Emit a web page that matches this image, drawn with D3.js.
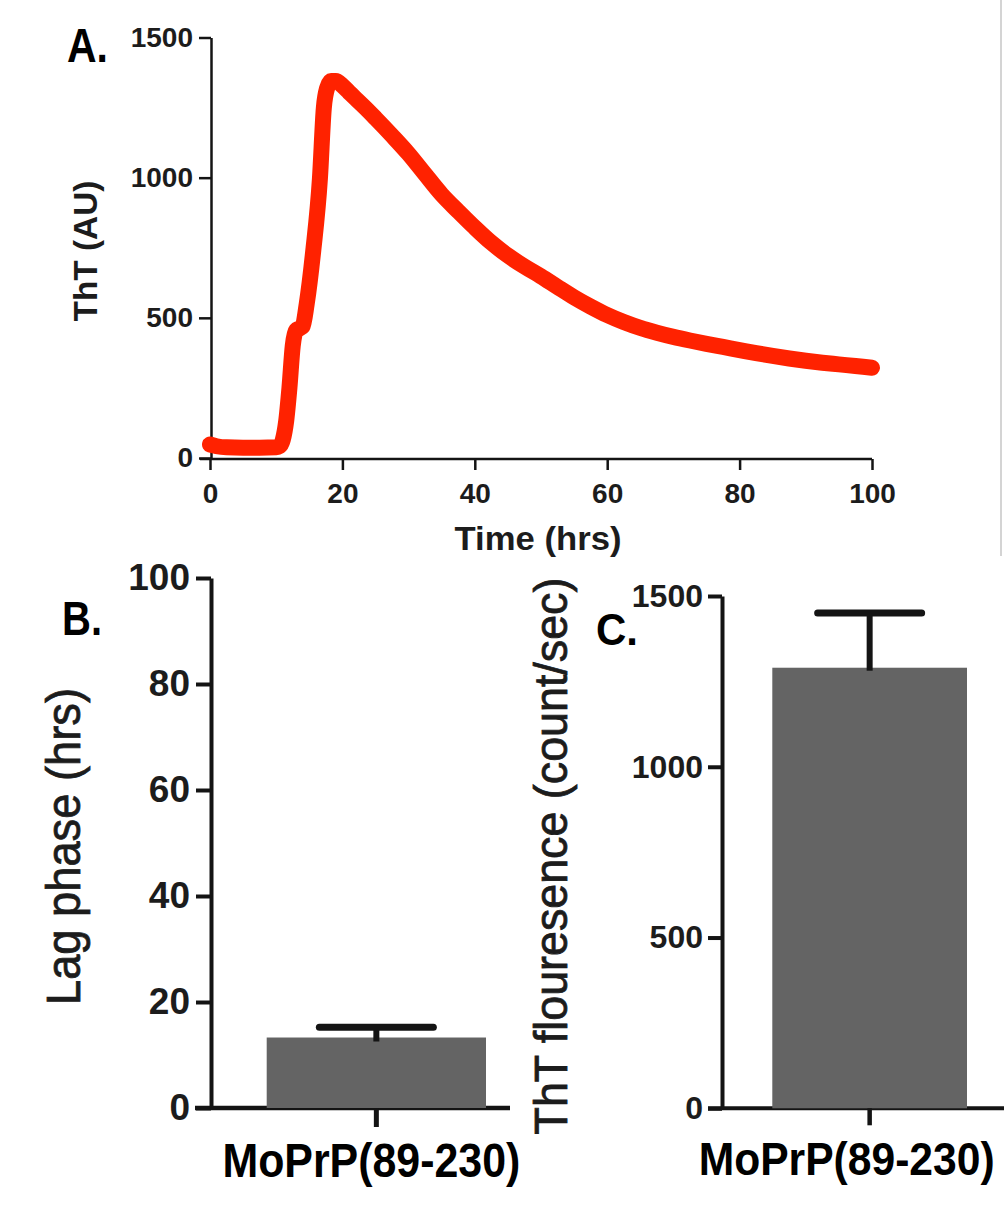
<!DOCTYPE html>
<html>
<head>
<meta charset="utf-8">
<script src="https://cdn.jsdelivr.net/npm/d3@7"></script>
<style>
  html, body { margin: 0; padding: 0; background: #fff; }
  svg { display: block; }
  text { font-family: "Liberation Sans", Arial, Helvetica, sans-serif; }
</style>
</head>
<body>
<script>
// ---------------- DATA ----------------
// Panel A: ThT kinetics
const timeHrs = [0, 1, 2.5, 5, 7.5, 10, 10.5, 11, 11.5, 12, 12.5, 13, 13.5, 14,
  14.6, 15.6, 16.6, 17.2, 17.7, 18.3, 19, 20, 21, 22, 23.5, 25, 27.5, 30, 32.5, 35,
  37.5, 40, 42.5, 45, 47.5, 50, 52.5, 55, 57.5, 60, 62.5, 65, 67.5, 70, 72.5, 75,
  77.5, 80, 82.5, 85, 87.5, 90, 92.5, 95, 97.5, 100];
const thtAU = [48, 42, 38, 37, 37, 38, 42, 65, 130, 250, 400, 455, 462, 470,
  548, 740, 995, 1250, 1320, 1345, 1345, 1328, 1305, 1282, 1248, 1212, 1150, 1085, 1012, 940,
  880, 822, 768, 722, 683, 648, 610, 573, 540, 510, 485, 464, 447, 432, 419, 407,
  396, 385, 374, 364, 355, 347, 340, 334, 328, 322];
const timeTicks = [0, 20, 40, 60, 80, 100];
const thtTicks = [0, 500, 1000, 1500];

// Panel B: lag phase
const categories = ["MoPrP(89-230)"];
const lagMean = [13.3];
const lagErr = [1.95];
const lagTicks = [0, 20, 40, 60, 80, 100];

// Panel C: ThT fluorescence
const fluorMean = [1290];
const fluorErr = [160];
const fluorTicks = [0, 500, 1000, 1500];

// ---------------- DRAW ----------------
const W = 1004, H = 1206;
const svg = d3.select("body").append("svg").attr("width", W).attr("height", H);
svg.append("rect").attr("width", W).attr("height", H).attr("fill", "#fff");

const INK = "#141414";
const fmt = d3.format("d");

function styleAxis(g, sw, fs) {
  g.selectAll("path.domain").attr("stroke", INK).attr("stroke-width", sw);
  g.selectAll(".tick line").attr("stroke", INK).attr("stroke-width", sw);
  g.selectAll(".tick text").attr("fill", "#1c1c1c").attr("font-size", fs)
    .attr("font-weight", "bold").attr("font-family", "'Liberation Sans', Arial, sans-serif");
}

// place a text (anchor middle or start) and squeeze it horizontally to a given length
function fitText(opts) {
  const t = svg.append("text")
    .attr("font-size", opts.size)
    .attr("font-weight", opts.weight || "normal")
    .attr("fill", opts.fill || "#000")
    .attr("text-anchor", opts.anchor || "middle")
    .text(opts.text);
  if (opts.stroke) t.attr("stroke", opts.fill).attr("stroke-width", opts.stroke);
  const natural = t.node().getComputedTextLength();
  const sx = opts.length / natural;
  const rot = opts.rotate ? " rotate(" + opts.rotate + ")" : "";
  t.attr("transform", "translate(" + opts.x + "," + opts.y + ")" + rot + " scale(" + sx + ",1)");
  return t;
}

// ===== Panel A =====
const xA = d3.scaleLinear().domain([0, 100]).range([210, 872]);
const yA = d3.scaleLinear().domain([0, 1500]).range([458, 37.5]);

svg.append("line").attr("x1", 1001).attr("x2", 1001).attr("y1", 0).attr("y2", 556)
  .attr("stroke", "#d4d4d4").attr("stroke-width", 2);

const gxA = svg.append("g").attr("transform", "translate(0,459)")
  .call(d3.axisBottom(xA).tickValues(timeTicks).tickFormat(fmt).tickSize(11).tickPadding(13).tickSizeOuter(0));
gxA.select("path.domain").remove();
gxA.append("line").attr("x1", 200).attr("x2", xA(100)).attr("y1", 0).attr("y2", 0)
  .attr("stroke", INK).attr("stroke-width", 2.5);
styleAxis(gxA, 2.5, 28);

const gyA = svg.append("g").attr("transform", "translate(211,0)")
  .call(d3.axisLeft(yA).tickValues(thtTicks).tickFormat(fmt).tickSize(12).tickPadding(6).tickSizeOuter(0));
styleAxis(gyA, 2.5, 28);

const lineA = d3.line().x((d, i) => xA(timeHrs[i])).y(d => yA(d)).curve(d3.curveMonotoneX);
svg.append("path").datum(thtAU).attr("d", lineA)
  .attr("fill", "none").attr("stroke", "#ff2200").attr("stroke-width", 16)
  .attr("stroke-linecap", "round").attr("stroke-linejoin", "round");

fitText({ text: "Time (hrs)", x: 538, y: 550, size: 34, weight: "bold", fill: "#1c1c1c", length: 167 });
fitText({ text: "ThT (AU)", x: 97, y: 251, rotate: -90, size: 33, weight: "bold", fill: "#1c1c1c", length: 141 });
fitText({ text: "A.", x: 67, y: 62, anchor: "start", size: 48, weight: "bold", length: 41 });

// ===== Panel B =====
const yB = d3.scaleLinear().domain([0, 100]).range([1108, 578]);
const xB = d3.scaleBand().domain(categories).range([266.7, 486]).padding(0);

const gyB = svg.append("g").attr("transform", "translate(211,0)")
  .call(d3.axisLeft(yB).tickValues(lagTicks).tickFormat(fmt).tickSize(15).tickPadding(6).tickSizeOuter(0));
styleAxis(gyB, 4, 37);

svg.append("line").attr("x1", 195).attr("x2", 510).attr("y1", yB(0)).attr("y2", yB(0))
  .attr("stroke", INK).attr("stroke-width", 4.5);

svg.selectAll("rect.barB").data(categories).enter().append("rect").attr("class", "barB")
  .attr("x", d => xB(d)).attr("width", xB.bandwidth())
  .attr("y", (d, i) => yB(lagMean[i])).attr("height", (d, i) => yB(0) - yB(lagMean[i]))
  .attr("fill", "#646464");

categories.forEach((c, i) => {
  const cx = xB(c) + xB.bandwidth() / 2;
  svg.append("line").attr("x1", cx).attr("x2", cx).attr("y1", yB(0)).attr("y2", yB(0) + 19)
    .attr("stroke", INK).attr("stroke-width", 5);
  svg.append("line").attr("x1", cx).attr("x2", cx)
    .attr("y1", yB(lagMean[i]) + 4).attr("y2", yB(lagMean[i] + lagErr[i]))
    .attr("stroke", INK).attr("stroke-width", 6);
  svg.append("line").attr("x1", cx - 57).attr("x2", cx + 57)
    .attr("y1", yB(lagMean[i] + lagErr[i])).attr("y2", yB(lagMean[i] + lagErr[i]))
    .attr("stroke", INK).attr("stroke-width", 7).attr("stroke-linecap", "round");
  fitText({ text: c, x: cx - 5, y: 1177, size: 49, weight: "bold", length: 298 });
});

fitText({ text: "Lag phase (hrs)", x: 80, y: 846.5, rotate: -90, size: 48, fill: "#1c1c1c", stroke: 0.8, length: 317 });
fitText({ text: "B.", x: 62, y: 635, anchor: "start", size: 48, weight: "bold", length: 40 });

// ===== Panel C =====
const yC = d3.scaleLinear().domain([0, 1500]).range([1108.3, 596]);
const xC = d3.scaleBand().domain(categories).range([772.3, 967]).padding(0);

const gyC = svg.append("g").attr("transform", "translate(722,0)")
  .call(d3.axisLeft(yC).tickValues(fluorTicks).tickFormat(fmt).tickSize(14).tickPadding(5).tickSizeOuter(0));
styleAxis(gyC, 4, 32);

svg.append("line").attr("x1", 708).attr("x2", 1004).attr("y1", yC(0)).attr("y2", yC(0))
  .attr("stroke", INK).attr("stroke-width", 4);

svg.selectAll("rect.barC").data(categories).enter().append("rect").attr("class", "barC")
  .attr("x", d => xC(d)).attr("width", xC.bandwidth())
  .attr("y", (d, i) => yC(fluorMean[i])).attr("height", (d, i) => yC(0) - yC(fluorMean[i]))
  .attr("fill", "#646464");

categories.forEach((c, i) => {
  const cx = xC(c) + xC.bandwidth() / 2;
  svg.append("line").attr("x1", cx).attr("x2", cx).attr("y1", yC(0)).attr("y2", yC(0) + 17)
    .attr("stroke", INK).attr("stroke-width", 4.5);
  svg.append("line").attr("x1", cx).attr("x2", cx)
    .attr("y1", yC(fluorMean[i]) + 3).attr("y2", yC(fluorMean[i] + fluorErr[i]))
    .attr("stroke", INK).attr("stroke-width", 6);
  svg.append("line").attr("x1", cx - 52).attr("x2", cx + 52)
    .attr("y1", yC(fluorMean[i] + fluorErr[i])).attr("y2", yC(fluorMean[i] + fluorErr[i]))
    .attr("stroke", INK).attr("stroke-width", 7).attr("stroke-linecap", "round");
  fitText({ text: c, x: cx - 23, y: 1175, size: 47, weight: "bold", length: 296 });
});

fitText({ text: "ThT flouresence (count/sec)", x: 567, y: 856, rotate: -90, size: 46, fill: "#1c1c1c", stroke: 0.8, length: 557 });
fitText({ text: "C.", x: 596, y: 645, anchor: "start", size: 45, weight: "bold", length: 42 });
</script>
</body>
</html>
